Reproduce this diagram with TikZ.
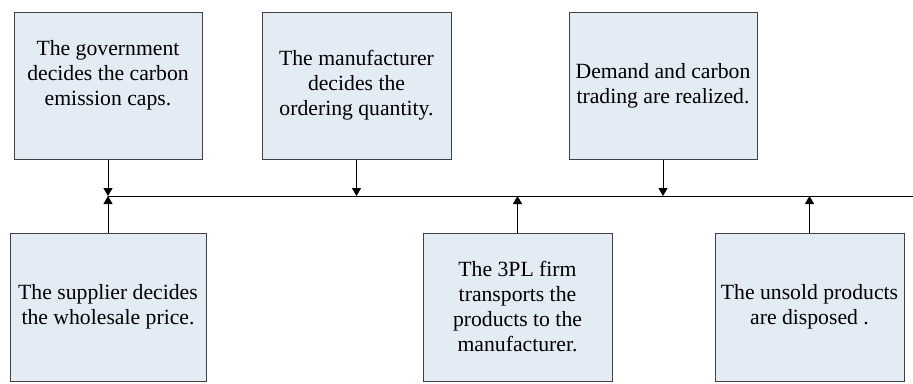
\documentclass[tikz,border=0pt]{standalone}
\usepackage{fontspec}
\IfFontExistsTF{LiberationSerif-Regular.ttf}
  {\setmainfont{LiberationSerif-Regular.ttf}}
  {\setmainfont{Liberation Serif}}
\usetikzlibrary{arrows.meta}
\definecolor{boxfill}{RGB}{227,235,245}
\definecolor{boxline}{RGB}{64,64,64}
\tikzset{
  stage/.style={draw=boxline,fill=boxfill,line width=1pt,align=center,
    inner sep=2pt,font=\rmfamily\fontsize{21.7pt}{25pt}\selectfont},
  upper/.style={stage,minimum width=188pt,minimum height=147pt},
  lower/.style={stage,minimum width=189pt,minimum height=148pt},
  tick/.style={line width=1pt,-{Triangle[length=8pt,width=9pt]}}
}
\begin{document}
\begin{tikzpicture}[x=1pt,y=-1pt]
\useasboundingbox (0,0) rectangle (913,383);

% decisions above the time line
\node[upper] (gov) at (108,85.5) {The government\\decides the carbon\\emission caps.\\~};
\node[upper,minimum width=189pt] (manu) at (356.5,85.5) {The manufacturer\\decides the\\ordering quantity.};
\node[upper] (dem) at (663,85.5) {Demand and carbon\\trading are realized.};

% events below the time line
\node[lower,minimum width=196pt] (supp) at (108,307) {The supplier decides\\the wholesale price.};
\node[lower] (tpl) at (517.5,307) {The 3PL firm\\transports the\\products to the\\manufacturer.};
\node[lower] (dis) at (809.5,307) {The unsold products\\are disposed .};

% time line
\coordinate (tl) at (108,196);
\coordinate (tr) at (913,196);
\draw[line width=1pt] (tl) -- (tr);

\draw[tick] (gov) -- (gov |- tl);
\draw[tick] (manu) -- (manu |- tl);
\draw[tick] (dem) -- (dem |- tl);
\draw[tick] (supp) -- (supp |- tl);
\draw[tick] (tpl) -- (tpl |- tl);
\draw[tick] (dis) -- (dis |- tl);
\end{tikzpicture}
\end{document}
